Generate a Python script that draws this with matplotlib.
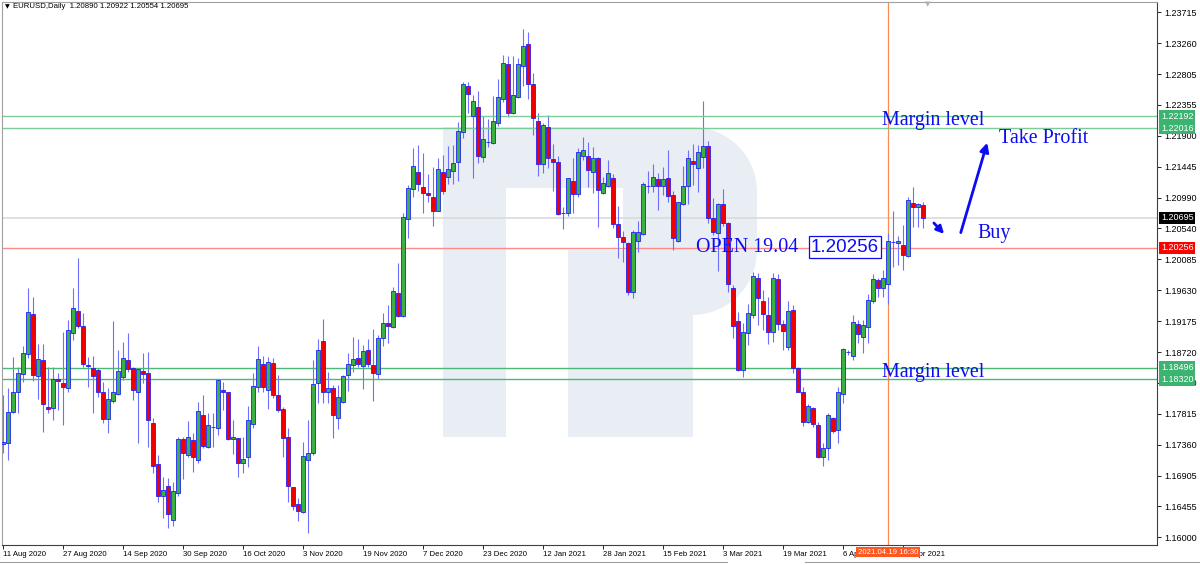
import matplotlib.pyplot as plt
import matplotlib.transforms as mtransforms
from matplotlib.patches import PathPatch
from matplotlib.path import Path
from matplotlib.lines import Line2D
import numpy as np

# EURUSD daily bars, 11 Aug 2020 .. 28 Apr 2021
opens = [
    1.1737, 1.1739, 1.1784, 1.1814, 1.1840, 1.1869, 1.1928, 1.1837, 1.1861, 1.1792,
    1.1790, 1.1833, 1.1827, 1.1819, 1.1900, 1.1933, 1.1911, 1.1853, 1.1849, 1.1846,
    1.1813, 1.1774, 1.1800, 1.1811, 1.1836, 1.1861, 1.1849, 1.1814, 1.1844, 1.1841,
    1.1768, 1.1708, 1.1661, 1.1675, 1.1625, 1.1665, 1.1744, 1.1721, 1.1743, 1.1714,
    1.1780, 1.1733, 1.1762, 1.1761, 1.1817, 1.1813, 1.1744, 1.1746, 1.1709, 1.1718,
    1.1767, 1.1821, 1.1855, 1.1817, 1.1856, 1.1809, 1.1789, 1.1747, 1.1674, 1.1649,
    1.1637, 1.1714, 1.1724, 1.1827, 1.1889, 1.1814, 1.1819, 1.1775, 1.1799, 1.1839,
    1.1853, 1.1864, 1.1852, 1.1875, 1.1853, 1.1840, 1.1893, 1.1915, 1.1909, 1.1959,
    1.1925, 1.2068, 1.2112, 1.2137, 1.2115, 1.2106, 1.2100, 1.2080, 1.2137, 1.2130,
    1.2138, 1.2152, 1.2196, 1.2263, 1.2219, 1.2233, 1.2159, 1.2181, 1.2180, 1.2209,
    1.2244, 1.2296, 1.2224, 1.2247, 1.2293, 1.2325, 1.2266, 1.2212, 1.2149, 1.2203,
    1.2156, 1.2152, 1.2077, 1.2077, 1.2124, 1.2105, 1.2160, 1.2160, 1.2137, 1.2158,
    1.2106, 1.2116, 1.2128, 1.2060, 1.2041, 1.2033, 1.1960, 1.2036, 1.2046, 1.2116,
    1.2116, 1.2127, 1.2116, 1.2128, 1.2103, 1.2036, 1.2090, 1.2116, 1.2153, 1.2143,
    1.2159, 1.2175, 1.2069, 1.2047, 1.2090, 1.2062, 1.1966, 1.1918, 1.1846, 1.1900,
    1.1927, 1.1981, 1.1947, 1.1927, 1.1902, 1.1980, 1.1914, 1.1880, 1.1934, 1.1849,
    1.1814, 1.1770, 1.1790, 1.1765, 1.1718, 1.1731, 1.1775, 1.1758, 1.1811, 1.1872,
    1.1866, 1.1914, 1.1894, 1.1909, 1.1947, 1.1978, 1.1966, 1.1972, 1.2034, 1.2033,
    1.2030, 1.2014, 1.2091, 1.2086, 1.20890,
]
highs = [
    1.1809, 1.1819, 1.1865, 1.1850, 1.1881, 1.1966, 1.1953, 1.1884, 1.1884, 1.1850,
    1.1850, 1.1841, 1.1902, 1.1919, 1.1966, 1.2011, 1.1930, 1.1865, 1.1866, 1.1849,
    1.1828, 1.1819, 1.1918, 1.1875, 1.1887, 1.1900, 1.1850, 1.1849, 1.1871, 1.1872,
    1.1775, 1.1721, 1.1689, 1.1687, 1.1681, 1.1747, 1.1747, 1.1771, 1.1753, 1.1799,
    1.1809, 1.1783, 1.1783, 1.1833, 1.1828, 1.1814, 1.1772, 1.1746, 1.1747, 1.1793,
    1.1841, 1.1881, 1.1866, 1.1865, 1.1864, 1.1839, 1.1792, 1.1761, 1.1674, 1.1658,
    1.1740, 1.1772, 1.1861, 1.1892, 1.1921, 1.1843, 1.1824, 1.1824, 1.1839, 1.1871,
    1.1894, 1.1892, 1.1883, 1.1892, 1.1906, 1.1897, 1.1930, 1.1941, 1.1968, 1.2003,
    1.2077, 1.2118, 1.2172, 1.2177, 1.2165, 1.2134, 1.2144, 1.2158, 1.2162, 1.2175,
    1.2177, 1.2210, 1.2269, 1.2269, 1.2250, 1.2256, 1.2219, 1.2215, 1.2249, 1.2274,
    1.2309, 1.2307, 1.2307, 1.2305, 1.2347, 1.2343, 1.2283, 1.2224, 1.2209, 1.2221,
    1.2178, 1.2160, 1.2086, 1.2128, 1.2158, 1.2172, 1.2188, 1.2181, 1.2174, 1.2159,
    1.2130, 1.2155, 1.2134, 1.2087, 1.2050, 1.2034, 1.2052, 1.2065, 1.2122, 1.2138,
    1.2149, 1.2135, 1.2144, 1.2169, 1.2109, 1.2093, 1.2146, 1.2169, 1.2178, 1.2177,
    1.2241, 1.2183, 1.2099, 1.2091, 1.2112, 1.2063, 1.1971, 1.1931, 1.1915, 1.1943,
    1.1990, 1.1988, 1.1964, 1.1953, 1.1988, 1.1987, 1.1919, 1.1947, 1.1941, 1.1850,
    1.1821, 1.1796, 1.1792, 1.1770, 1.1739, 1.1783, 1.1777, 1.1821, 1.1878, 1.1875,
    1.1927, 1.1919, 1.1919, 1.1958, 1.1987, 1.1981, 1.1993, 1.2047, 1.2080, 1.2043,
    1.2059, 1.2100, 1.2115, 1.2091, 1.20922,
]
lows = [
    1.1724, 1.1714, 1.1783, 1.1783, 1.1828, 1.1864, 1.1830, 1.1803, 1.1755, 1.1783,
    1.1772, 1.1787, 1.1765, 1.1813, 1.1890, 1.1908, 1.1850, 1.1821, 1.1783, 1.1806,
    1.1768, 1.1753, 1.1797, 1.1809, 1.1831, 1.1843, 1.1802, 1.1739, 1.1827, 1.1733,
    1.1694, 1.1652, 1.1628, 1.1614, 1.1617, 1.1661, 1.1686, 1.1718, 1.1696, 1.1709,
    1.1731, 1.1731, 1.1733, 1.1750, 1.1787, 1.1743, 1.1722, 1.1689, 1.1694, 1.1703,
    1.1761, 1.1813, 1.1813, 1.1789, 1.1805, 1.1784, 1.1718, 1.1652, 1.1640, 1.1624,
    1.1636, 1.1606, 1.1721, 1.1797, 1.1797, 1.1797, 1.1746, 1.1759, 1.1797, 1.1815,
    1.1843, 1.1850, 1.1818, 1.1850, 1.1800, 1.1833, 1.1881, 1.1886, 1.1908, 1.1924,
    1.1924, 1.2040, 1.2100, 1.2109, 1.2077, 1.2093, 1.2058, 1.2079, 1.2105, 1.2119,
    1.2119, 1.2124, 1.2187, 1.2224, 1.2128, 1.2150, 1.2152, 1.2174, 1.2178, 1.2205,
    1.2240, 1.2218, 1.2222, 1.2246, 1.2263, 1.2244, 1.2191, 1.2131, 1.2135, 1.2143,
    1.2109, 1.2074, 1.2053, 1.2072, 1.2077, 1.2100, 1.2155, 1.2115, 1.2106, 1.2056,
    1.2105, 1.2115, 1.2055, 1.2011, 1.2005, 1.1956, 1.1952, 1.2019, 1.2044, 1.2106,
    1.2108, 1.2081, 1.2103, 1.2093, 1.2022, 1.2034, 1.2088, 1.2090, 1.2118, 1.2108,
    1.2143, 1.2062, 1.2044, 1.1991, 1.2058, 1.1960, 1.1893, 1.1844, 1.1836, 1.1883,
    1.1922, 1.1912, 1.1905, 1.1884, 1.1887, 1.1905, 1.1875, 1.1875, 1.1841, 1.1813,
    1.1764, 1.1768, 1.1762, 1.1717, 1.1705, 1.1714, 1.1753, 1.1739, 1.1797, 1.1868,
    1.1861, 1.1886, 1.1871, 1.1886, 1.1944, 1.1953, 1.1953, 1.1943, 1.1997, 1.2000,
    1.1993, 1.2012, 1.2056, 1.2056, 1.20554,
]
closes = [
    1.1740, 1.1784, 1.1814, 1.1841, 1.1871, 1.1931, 1.1839, 1.1862, 1.1796, 1.1789,
    1.1833, 1.1830, 1.1821, 1.1905, 1.1937, 1.1911, 1.1855, 1.1852, 1.1837, 1.1813,
    1.1774, 1.1803, 1.1814, 1.1844, 1.1864, 1.1847, 1.1817, 1.1847, 1.1840, 1.1772,
    1.1705, 1.1661, 1.1670, 1.1634, 1.1668, 1.1744, 1.1724, 1.1747, 1.1718, 1.1786,
    1.1734, 1.1765, 1.1762, 1.1831, 1.1813, 1.1744, 1.1747, 1.1709, 1.1715, 1.1772,
    1.1822, 1.1862, 1.1821, 1.1858, 1.1809, 1.1787, 1.1746, 1.1675, 1.1646, 1.1638,
    1.1720, 1.1724, 1.1825, 1.1875, 1.1814, 1.1819, 1.1780, 1.1806, 1.1837, 1.1855,
    1.1862, 1.1855, 1.1874, 1.1855, 1.1841, 1.1893, 1.1915, 1.1911, 1.1962, 1.1925,
    1.2071, 1.2113, 1.2146, 1.2119, 1.2106, 1.2103, 1.2080, 1.2141, 1.2109, 1.2141,
    1.2150, 1.2197, 1.2266, 1.2252, 1.2241, 1.2160, 1.2185, 1.2181, 1.2212, 1.2247,
    1.2297, 1.2224, 1.2250, 1.2296, 1.2322, 1.2266, 1.2216, 1.2149, 1.2206, 1.2158,
    1.2152, 1.2075, 1.2077, 1.2128, 1.2105, 1.2166, 1.2169, 1.2140, 1.2158, 1.2111,
    1.2121, 1.2135, 1.2060, 1.2041, 1.2034, 1.1960, 1.2049, 1.2049, 1.2119, 1.2116,
    1.2130, 1.2116, 1.2127, 1.2102, 1.2040, 1.2093, 1.2116, 1.2158, 1.2149, 1.2166,
    1.2175, 1.2069, 1.2049, 1.2090, 1.2062, 1.1972, 1.1911, 1.1846, 1.1902, 1.1930,
    1.1984, 1.1952, 1.1928, 1.1902, 1.1981, 1.1914, 1.1903, 1.1933, 1.1849, 1.1814,
    1.1770, 1.1793, 1.1767, 1.1718, 1.1731, 1.1780, 1.1756, 1.1814, 1.1877, 1.1872,
    1.1916, 1.1899, 1.1912, 1.1949, 1.1980, 1.1966, 1.1981, 1.2036, 1.2034, 1.2036,
    1.2015, 1.2096, 1.2086, 1.2090, 1.20695,
]

date_labels = [
    "11 Aug 2020", "27 Aug 2020", "14 Sep 2020", "30 Sep 2020", "16 Oct 2020",
    "3 Nov 2020", "19 Nov 2020", "7 Dec 2020", "23 Dec 2020", "12 Jan 2021",
    "28 Jan 2021", "15 Feb 2021", "3 Mar 2021", "19 Mar 2021", "6 Apr 2021",
    "22 Apr 2021",
]
label_step = 12

price_ticks = [
    1.23715, 1.23260, 1.22805, 1.22355, 1.21900, 1.21445, 1.20990, 1.20540,
    1.20085, 1.19630, 1.19175, 1.18720, 1.18270, 1.17815, 1.17360, 1.16905,
    1.16455, 1.16000,
]
margin_upper = [1.22192, 1.22016]
margin_lower = [1.18496, 1.18320]
open_price = 1.20256
open_bar = 177
open_time = "2021.04.19 16:30"

BLUE = "#0c0cf4"
GREEN_LINE = "#4cb878"


def main():
    plt.rcParams["font.family"] = ["Liberation Sans", "DejaVu Sans"]

    fig = plt.figure(figsize=(12, 5.65), dpi=100)
    ax = fig.add_axes([2 / 1200, 20 / 565, 1155 / 1200, 543 / 565])
    ax.set_xlim(-0.2, 230.8)
    ax.set_ylim(1.15887, 1.23869)

    # reference-pixel transform, used for the watermark and frame bits only
    px = mtransforms.Affine2D().scale(1 / 1200, -1 / 565).translate(0, 1) + fig.transFigure

    # pale "R" watermark
    M, L, C4, CL = Path.MOVETO, Path.LINETO, Path.CURVE4, Path.CLOSEPOLY
    verts = [
        (443, 127), (692, 127),
        (728, 127), (757, 156), (757, 192),
        (757, 250),
        (757, 286), (728, 315), (692, 315),
        (693, 315), (693, 437), (568, 437), (568, 250), (623, 250),
        (623, 188), (506, 188), (506, 437), (443, 437), (443, 127),
    ]
    codes = [M, L, C4, C4, C4, L, C4, C4, C4, L, L, L, L, L, L, L, L, L, CL]
    logo = PathPatch(Path(verts, codes), facecolor="#e9edf4", edgecolor="none",
                     transform=px, zorder=0)
    ax.add_patch(logo)

    o = np.array(opens)
    h = np.array(highs)
    l = np.array(lows)
    c = np.array(closes)
    x = np.arange(len(o))

    # horizontal levels
    ax.axhline(closes[-1], color="#dadada", lw=1.2, zorder=1)
    ax.axhline(open_price, color="#ff8a8a", lw=1.0, zorder=1)
    for lvl in margin_upper:
        ax.axhline(lvl, color="#7ccc9a", lw=1.0, zorder=2.5)
    for lvl in margin_lower:
        ax.axhline(lvl, color=GREEN_LINE, lw=1.0, zorder=2.5)
    ax.axvline(open_bar, color="#ff8a50", lw=0.9, zorder=1.2)

    # candles
    ax.vlines(x, l, h, color="#6f6fff", lw=0.8, zorder=2)
    up = c >= o
    body_bottom = np.minimum(o, c)
    body_height = np.maximum(np.abs(c - o), 0.00003)
    body_colors = np.where(up, "#3cb043", "#f00000")
    ax.bar(x, body_height, bottom=body_bottom, width=0.62, color=body_colors,
           edgecolor="#2020ff", linewidth=0.6, zorder=3)

    # price axis on the right
    ax.yaxis.tick_right()
    ax.set_yticks(price_ticks)
    ax.set_yticklabels([f"{t:.5f}" for t in price_ticks])
    ax.tick_params(axis="y", length=3, width=0.6, pad=2, labelsize=6.5)

    # date axis
    ax.set_xticks(np.arange(len(date_labels)) * label_step)
    ax.set_xticklabels(date_labels, ha="left")
    ax.tick_params(axis="x", length=3, width=0.6, pad=1, labelsize=5.6)

    for side in ["left", "top"]:
        ax.spines[side].set_color("#a0a0a0")
        ax.spines[side].set_linewidth(0.8)
    for side in ["right", "bottom"]:
        ax.spines[side].set_color("#404040")
        ax.spines[side].set_linewidth(0.8)

    # price tags on the axis
    tag_tf = mtransforms.blended_transform_factory(ax.transAxes, ax.transData)
    tags = [(p, "#3cb371") for p in margin_upper + margin_lower]
    tags += [(closes[-1], "#000000"), (open_price, "#ff0000")]
    for p, col in tags:
        ax.text(1.0 + 4 / 1155, p, f"{p:.5f}", transform=tag_tf, ha="left",
                va="center", fontsize=6.5, color="white", clip_on=False,
                zorder=10, bbox=dict(boxstyle="square,pad=0.18", fc=col, ec="none"))

    # crosshair time box
    time_tf = mtransforms.blended_transform_factory(ax.transData, ax.transAxes)
    ax.text(open_bar, -0.007, open_time, transform=time_tf, ha="center", va="top",
            fontsize=5.6, color="white", clip_on=False, zorder=11,
            bbox=dict(boxstyle="square,pad=0.2", fc="#ff5722", ec="none"))

    # annotations
    serif = ["Liberation Serif", "DejaVu Serif"]
    ax.text(175.8, 1.2212, "Margin level", family=serif, fontsize=14.4,
            color=BLUE, va="center", ha="left", zorder=6)
    ax.text(175.8, 1.1842, "Margin level", family=serif, fontsize=14.4,
            color=BLUE, va="center", ha="left", zorder=6)
    ax.text(199.2, 1.2186, "Take Profit", family=serif, fontsize=14.4,
            color=BLUE, va="center", ha="left", zorder=6)
    ax.text(194.8, 1.2046, "Buy", family=serif, fontsize=14.4,
            color=BLUE, va="center", ha="left", zorder=6)
    ax.text(138.6, open_price + 0.0001, "OPEN 19.04", family=serif, fontsize=14.4,
            color=BLUE, va="center", ha="left", zorder=6)
    ax.text(161.6, open_price + 0.0001, f"{open_price:.5f}", fontsize=13.5,
            color=BLUE, va="center", ha="left", zorder=6,
            bbox=dict(boxstyle="square,pad=0.12", fc="white", ec=BLUE, lw=0.9))

    ax.annotate("", xy=(188.6, 1.2043), xytext=(185.8, 1.2065),
                arrowprops=dict(arrowstyle="-|>", color=BLUE, lw=2,
                                mutation_scale=11), zorder=6)
    ax.annotate("", xy=(197.0, 1.2184), xytext=(191.4, 1.2044),
                arrowprops=dict(arrowstyle="-|>", color=BLUE, lw=2,
                                mutation_scale=13), zorder=6)

    # header
    header = "EURUSD,Daily  " + " ".join(
        f"{v:.5f}" for v in (opens[-1], highs[-1], lows[-1], closes[-1]))
    fig.text(5 / 1200, 1 - 7 / 565, "\u25BC", fontsize=4.5, va="center",
             family=["DejaVu Sans"])
    fig.text(13 / 1200, 1 - 7 / 565, header, fontsize=5.6, va="center")
    fig.text(928 / 1200, 1 - 4 / 565, "\u25BC", fontsize=5, va="center",
             ha="center", color="#b0b0b0", family=["DejaVu Sans"])

    # terminal tab strip under the chart
    fig.add_artist(Line2D([0, 727], [562, 562], color="#a0a0a0", lw=0.8, transform=px))
    fig.add_artist(Line2D([805, 1200], [562, 562], color="#a0a0a0", lw=0.8, transform=px))

    fig.savefig("out.png", dpi=100)


if __name__ == "__main__":
    main()
